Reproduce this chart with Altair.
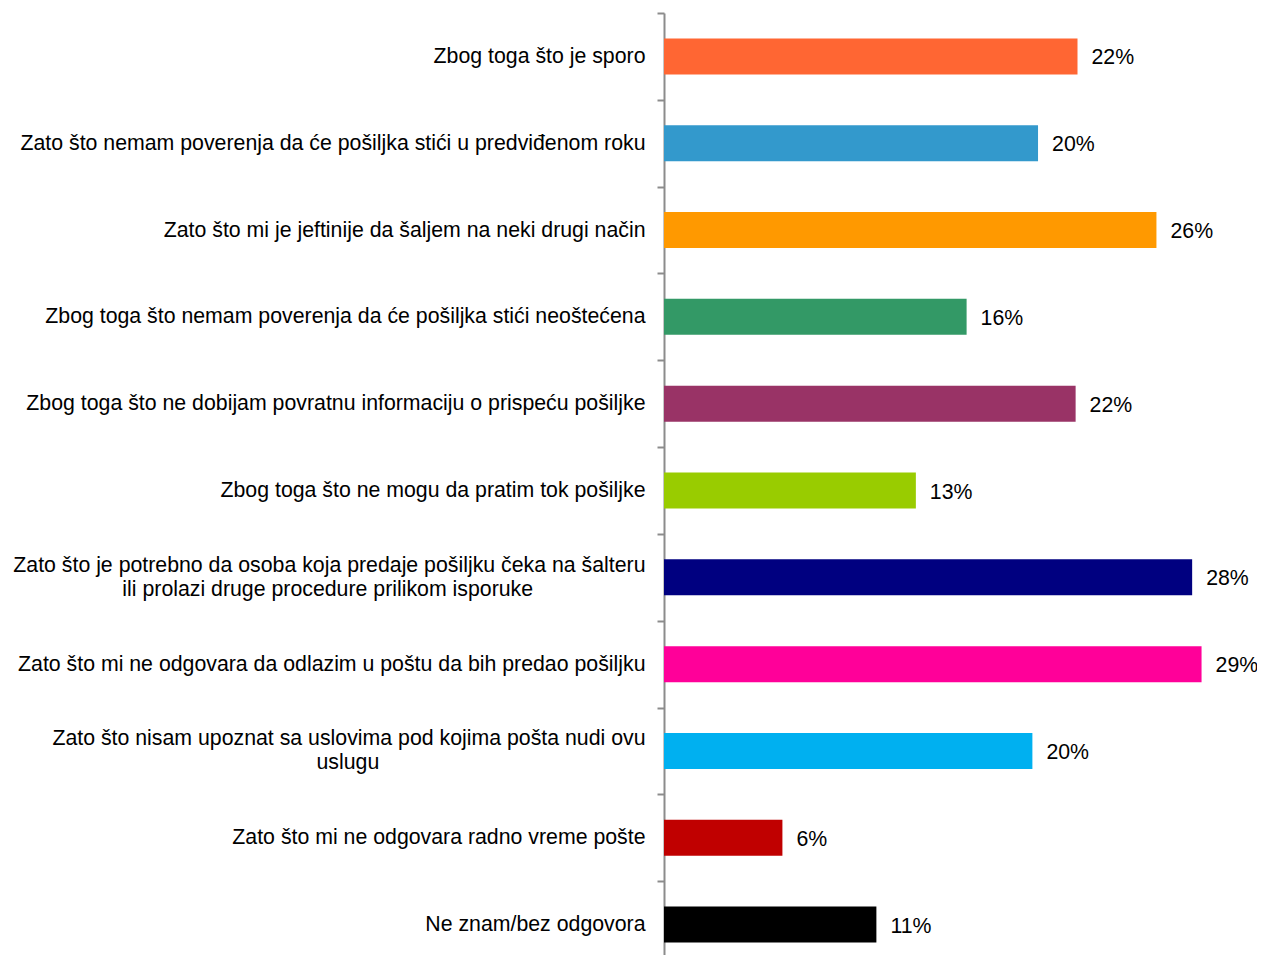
import altair as alt
import pandas as pd

NB = "\u00a0"
ZW = "\u200b"
categories = [
    "Zbog toga što je sporo",
    "Zato što nemam poverenja da će pošiljka stići u predviđenom roku",
    "Zato što mi je jeftinije da šaljem na neki drugi način",
    "Zbog toga što nemam poverenja da će pošiljka stići neoštećena",
    "Zbog toga što ne dobijam povratnu informaciju o prispeću pošiljke",
    "Zbog toga što ne mogu da pratim tok pošiljke",
    "Zato što je potrebno da osoba koja predaje pošiljku čeka na šalteru|ili prolazi druge procedure prilikom isporuke" + NB * 19 + ZW,
    "Zato što mi ne odgovara da odlazim u poštu da bih predao pošiljku",
    "Zato što nisam upoznat sa uslovima pod kojima pošta nudi ovu|uslugu" + NB * 45 + ZW,
    "Zato što mi ne odgovara radno vreme pošte",
    "Ne znam/bez odgovora",
]
values = [0.220, 0.199, 0.262, 0.161, 0.219, 0.134, 0.281, 0.286, 0.196, 0.063, 0.113]
colors = ["#FF6633", "#3399CC", "#FF9900", "#339966", "#993366", "#99CC00",
          "#000080", "#FF0099", "#00B0F0", "#C00000", "#000000"]

df = pd.DataFrame({"cat": categories, "val": values})

FONT = "Liberation Sans, Arial, sans-serif"
MULTI = "isString(datum.value) && indexof(datum.value, '|') >= 0"

y_axis = alt.Axis(
    title=None,
    labelExpr="split(datum.label, '|')",
    labelFont=FONT,
    labelFontSize=21.3,
    labelColor="#000000",
    labelLimit=800,
    labelLineHeight=24,
    labelAlign="right",
    labelPadding=12,
    labelBaseline={"condition": {"test": MULTI, "value": "line-bottom"}, "value": "middle"},
    domainColor="#8c8c8c",
    domainWidth=2,
    tickColor="#8c8c8c",
    tickWidth=2,
    tickSize=7,
    tickBand="extent",
    grid=False,
)

y_enc = alt.Y("cat:N", sort=categories, title=None,
              scale=alt.Scale(range=[0, 955], paddingInner=0, paddingOuter=0),
              axis=y_axis)
x_enc = alt.X("val:Q", scale=alt.Scale(domain=[0, 0.3155], nice=False), axis=None)

bars = alt.Chart(df).mark_bar(size=36).encode(
    x=x_enc,
    y=y_enc,
    color=alt.Color("cat:N", scale=alt.Scale(domain=categories, range=colors), legend=None),
)

labels = alt.Chart(df).mark_text(
    align="left", baseline="middle", dx=14, dy=2, fontSize=21.3, font=FONT, color="#000000"
).encode(
    x=x_enc,
    y=y_enc,
    text=alt.Text("val:Q", format=".0%"),
)

chart = alt.layer(bars, labels).properties(
    width=593,
    height=942,
    background="white",
    autosize=alt.AutoSizeParams(type="none"),
    padding={"left": 656, "top": 5, "right": 0, "bottom": 0},
).configure_view(stroke=None)

chart.save("out.html", embed_options={"renderer": "svg", "actions": False})
